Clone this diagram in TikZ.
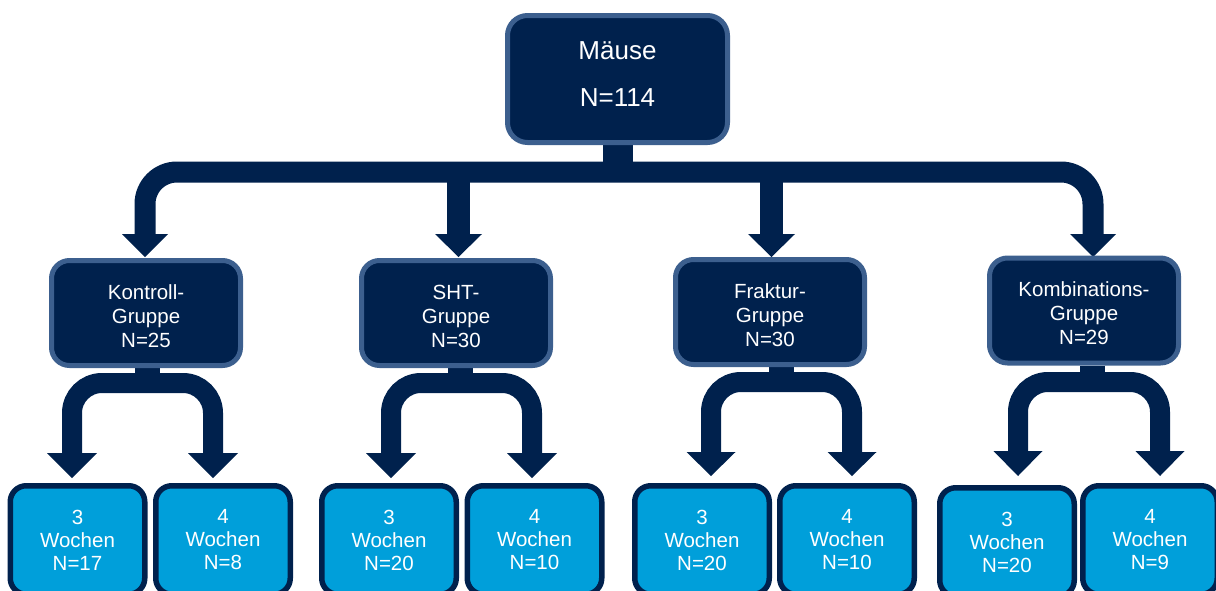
\documentclass[tikz,border=0pt]{standalone}
\usepackage{fontspec}
\setmainfont{Liberation Sans}
\usetikzlibrary{backgrounds}
\definecolor{navy}{RGB}{0,33,77}
\definecolor{rim}{RGB}{60,95,142}
\definecolor{sky}{RGB}{0,159,218}
\newcommand{\mkhead}[3]{\fill[navy] (#1) -- ++(#2,-#3) -- ++(-2*#2,0) -- cycle;}
\begin{document}
\begin{tikzpicture}[x=1pt,y=-1pt,
 rootbox/.style={draw=rim, fill=navy, line width=5pt, rounded corners=20pt,
   minimum width=220pt, minimum height=127pt, inner sep=0pt},
 roottext/.style={text=white, font=\fontsize{26}{30}\selectfont, align=center, inner sep=0pt},
 groupbox/.style={draw=rim, fill=navy, line width=5pt, rounded corners=18pt,
   minimum width=189pt, minimum height=105pt, inner sep=0pt},
 grouptext/.style={text=white, font=\fontsize{20.5}{24}\selectfont, align=center, inner sep=0pt},
 leafbox/.style={draw=navy, fill=sky, line width=5.5pt, rounded corners=16pt,
   minimum width=134.5pt, minimum height=108.5pt, text=white,
   font=\fontsize{20.5}{23}\selectfont, align=center, inner sep=0pt},
 bar/.style={draw=navy, line width=21pt},
 fork/.style={draw=navy, line width=20pt},
 stemline/.style={draw=navy, line width=25pt},
]
\useasboundingbox (0,0) rectangle (1216,590);
\clip (0,0) rectangle (1216,590);

% ---------- boxes ----------
\node[rootbox] (root) at (617.5,79) {};
\node[roottext] at ([yshift=5pt]root.center) {Mäuse\\[17pt]N=114};

\node[groupbox] (kontroll) at (146,313) {};
\node[groupbox] (sht) at (456,313) {};
\node[groupbox] (fraktur) at (770,312) {};
\node[groupbox] (kombi) at (1084,310.5) {};
\node[grouptext] at ([yshift=-3pt]kontroll.center) {Kontroll-\\Gruppe\\N=25};
\node[grouptext] at ([yshift=-3pt]sht.center) {SHT-\\Gruppe\\N=30};
\node[grouptext] at ([yshift=-3pt]fraktur.center) {Fraktur-\\Gruppe\\N=30};
\node[grouptext] at ([yshift=-3pt]kombi.center) {Kombinations-\\Gruppe\\N=29};

\node[leafbox] (k3) at (77.5,540) {3\\Wochen\\N=17};
\node[leafbox] (k4) at (223,540) {4\\Wochen\\N=8};
\node[leafbox] (s3) at (389,540) {3\\Wochen\\N=20};
\node[leafbox] (s4) at (534.5,540) {4\\Wochen\\N=10};
\node[leafbox] (f3) at (702,540) {3\\Wochen\\N=20};
\node[leafbox] (f4) at (847,540) {4\\Wochen\\N=10};
\node[leafbox] (c3) at (1007,542) {3\\Wochen\\N=20};
\node[leafbox] (c4) at (1150,540) {4\\Wochen\\N=9};

% ---------- connectors (behind boxes) ----------
\begin{scope}[on background layer]
\draw[bar, line width=30pt] (root.south) -- (root.south |- 0,172);
\draw[bar, rounded corners=32pt] (kontroll.north -| 145,0) ++(0,-24) |- (1093,172) -- (1093,234);
\draw[bar, line width=23pt] (458.5,172) -- (458.5,234);
\draw[bar, line width=23pt] (771.5,172) -- (771.5,234);
\mkhead{145,257}{23}{23}
\mkhead{458.5,257}{23.5}{23}
\mkhead{771.5,257}{23.5}{23}
\mkhead{1093,257}{23}{23}

% Kontroll fork
\draw[stemline] ([xshift=1pt]kontroll.south) -- ++(0,18);
\draw[fork, rounded corners=30pt] (72,453) |- (213,383) -- (213,453);
\mkhead{72,478}{25}{25}
\mkhead{213,478}{25}{25}
% SHT fork
\draw[stemline] ([xshift=4pt]sht.south) -- ++(0,18);
\draw[fork, rounded corners=30pt] (391,453) |- (532,383) -- (532,453);
\mkhead{391,478}{25}{25}
\mkhead{532,478}{25}{25}
% Fraktur fork
\draw[stemline] ([xshift=11pt]fraktur.south) -- ++(0,18);
\draw[fork, rounded corners=30pt] (711,452) |- (852,382) -- (852,452);
\mkhead{711,476}{24.5}{24}
\mkhead{852,476}{24.5}{24}
% Kombinations fork
\draw[stemline] ([xshift=8pt]kombi.south) -- ++(0,20);
\draw[fork, rounded corners=30pt] (1018,451) |- (1160,382) -- (1160,451);
\mkhead{1018,476}{24.5}{25}
\mkhead{1160,476}{24.5}{25}
\end{scope}
\end{tikzpicture}
\end{document}
